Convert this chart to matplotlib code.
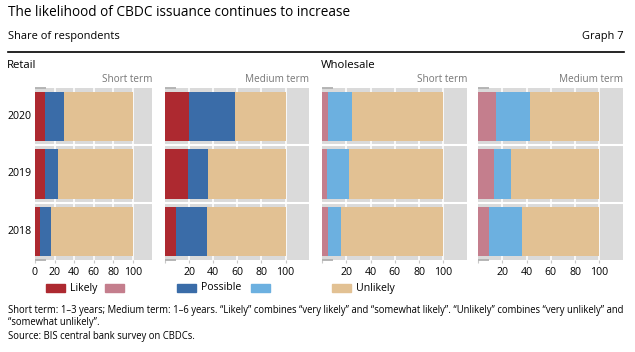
""" Recreates BIS Graph 7: likelihood of CBDC issuance (share of respondents). """

import matplotlib
matplotlib.use("Agg")
import matplotlib.pyplot as plt
from matplotlib.patches import Rectangle
from matplotlib.lines import Line2D

FONT = ["Open Sans", "DejaVu Sans"]
plt.rcParams['font.family'] = FONT

years = ["2018", "2019", "2020"]
x_ticks = [0, 20, 40, 60, 80, 100]

retail_short_likely = [5, 10, 10]
retail_short_possible = [11, 13, 20]
retail_short_unlikely = [84, 77, 70]

retail_medium_likely = [9, 19, 20]
retail_medium_possible = [26, 17, 38]
retail_medium_unlikely = [65, 64, 42]

wholesale_short_likely = [5, 4, 5]
wholesale_short_possible = [11, 18, 20]
wholesale_short_unlikely = [84, 78, 75]

wholesale_medium_likely = [9, 13, 15]
wholesale_medium_possible = [27, 14, 28]
wholesale_medium_unlikely = [64, 73, 57]

RED = '#ad2930'
PINK = '#c47e8d'
BLUE = '#3a6ca8'
LIGHT_BLUE = '#6cb0e0'
TAN = '#e2c193'
GRAY = '#dadada'

W, H = 635, 352


def fx(px):
    return px / W


def fy(py):
    return 1 - py / H


def draw_panel(ax, likely, possible, unlikely, likely_color, possible_color, title, show_zero):
    ax.set_facecolor(GRAY)
    pos = list(range(len(years)))
    ax.barh(pos, likely, height=0.86, color=likely_color, zorder=2)
    ax.barh(pos, possible, left=likely, height=0.86, color=possible_color, zorder=2)
    left = [a + b for a, b in zip(likely, possible)]
    ax.barh(pos, unlikely, left=left, height=0.86, color=TAN, zorder=2)

    ax.set_xlim(0, 119.5)
    ax.set_ylim(-0.5, len(years) - 0.5)
    for x in x_ticks[1:]:
        ax.axvline(x, color='white', lw=1.2, zorder=1)
    for y in [0.5, 1.5]:
        ax.axhline(y, color='white', lw=1.5, zorder=3)

    ax.set_xticks(x_ticks)
    ax.set_xticklabels([str(t) if (t > 0 or show_zero) else '' for t in x_ticks])
    ax.tick_params(axis='x', length=2, color='#c8c8c8', labelsize=7.6, pad=3)

    ax.set_yticks([0.5, 1.5])
    ax.set_yticklabels([])
    ax.tick_params(axis='y', which='major', direction='in', length=8, width=1.3, color='#333333')
    ax.set_yticks([-0.5, 2.5], minor=True)
    ax.tick_params(axis='y', which='minor', direction='in', length=8, width=1.3, color='#b0b0b0')

    for s in ax.spines.values():
        s.set_visible(False)
    ax.text(1.0, 1.02, title, transform=ax.transAxes, ha='right', va='bottom',
            fontsize=7.2, color='#777777')
    return ax


def main():
    fig = plt.figure(figsize=(W / 100, H / 100), dpi=100)

    fig.text(fx(8), fy(12), "The likelihood of CBDC issuance continues to increase",
             fontsize=9.8, va='center', ha='left')
    fig.text(fx(8), fy(37), "Share of respondents", fontsize=7.9, va='center', ha='left')
    fig.text(fx(624), fy(36), "Graph 7", fontsize=7.9, va='center', ha='right')
    fig.add_artist(Line2D([fx(8), fx(624)], [fy(52), fy(52)], color='black', lw=1.2,
                          transform=fig.transFigure))
    fig.text(fx(7), fy(66), "Retail", fontsize=8.2, va='center', ha='left')
    fig.text(fx(321), fy(66), "Wholesale", fontsize=8.2, va='center', ha='left')

    bottom = fy(260)
    height = fy(88) - bottom
    panels = [
        (35, 117, retail_short_likely, retail_short_possible, retail_short_unlikely, RED, BLUE,
         "Short term", True),
        (165, 144, retail_medium_likely, retail_medium_possible, retail_medium_unlikely, RED, BLUE,
         "Medium term", False),
        (322, 145, wholesale_short_likely, wholesale_short_possible, wholesale_short_unlikely, PINK,
         LIGHT_BLUE, "Short term", False),
        (478, 145, wholesale_medium_likely, wholesale_medium_possible, wholesale_medium_unlikely, PINK,
         LIGHT_BLUE, "Medium term", False),
    ]
    axes = []
    for left, width, lk, ps, ul, c1, c2, title, zero in panels:
        ax = fig.add_axes([fx(left), bottom, width / W, height])
        draw_panel(ax, lk, ps, ul, c1, c2, title, zero)
        axes.append(ax)

    for i, yr in enumerate(years):
        axes[0].text(-0.03, i, yr, transform=axes[0].get_yaxis_transform(), ha='right',
                     va='center', fontsize=7.6)

    # legend, drawn by hand to mimic the uneven column spacing
    legend_items = [(46, RED, "Likely"), (105, PINK, ""), (177, BLUE, "Possible"),
                    (251, LIGHT_BLUE, ""), (332, TAN, "Unlikely")]
    for x, color, label in legend_items:
        fig.add_artist(Rectangle((fx(x), fy(292)), 19 / W, 8 / H, color=color,
                                 transform=fig.transFigure))
        if label:
            fig.text(fx(x + 24), fy(288), label, fontsize=7.6, va='center', ha='left')

    fig.text(fx(8), fy(310),
             "Short term: 1\u20133 years; Medium term: 1\u20136 years. \u201cLikely\u201d combines "
             "\u201cvery likely\u201d and \u201csomewhat likely\u201d. \u201cUnlikely\u201d combines "
             "\u201cvery unlikely\u201d and", fontsize=6.85, va='center', ha='left')
    fig.text(fx(8), fy(322), "\u201csomewhat unlikely\u201d.", fontsize=6.85, va='center', ha='left')
    fig.text(fx(8), fy(337), "Source: BIS central bank survey on CBDCs.", fontsize=6.85,
             va='center', ha='left')

    fig.savefig("out.png", dpi=100)


if __name__ == "__main__":
    main()
